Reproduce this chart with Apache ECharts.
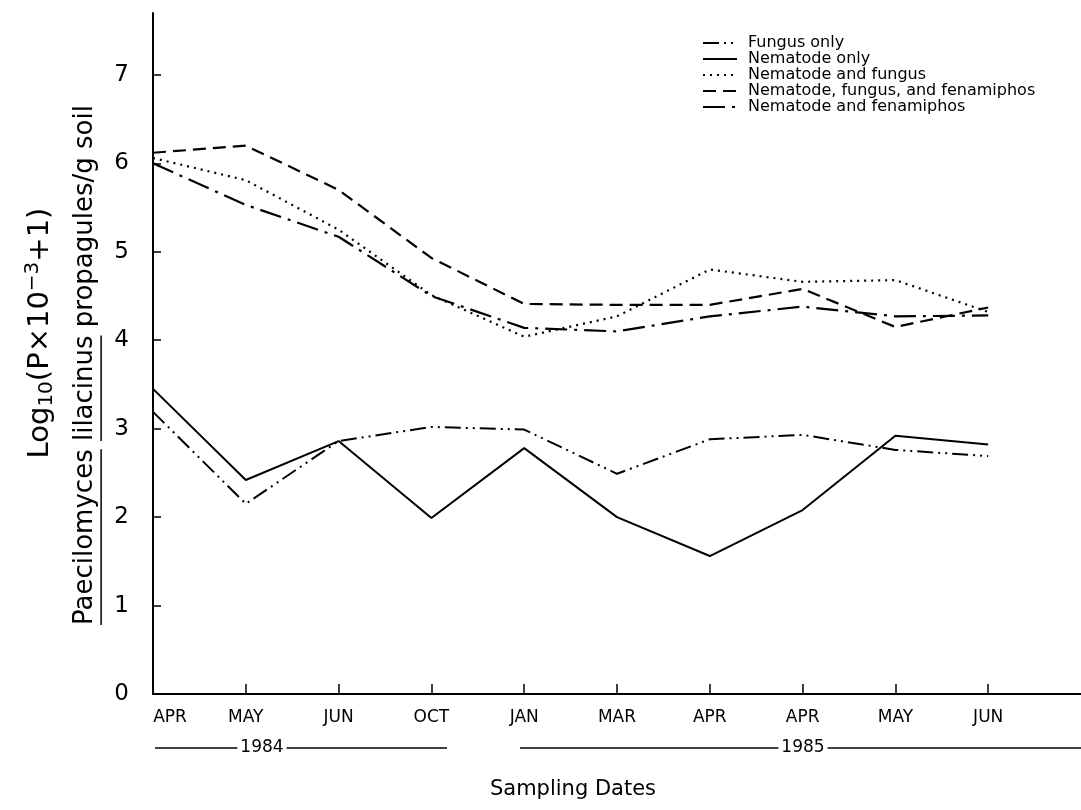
<!DOCTYPE html>
<html><head><meta charset="utf-8">
<script src="https://cdn.jsdelivr.net/npm/echarts@6/dist/echarts.min.js"></script>
<style>html,body{margin:0;padding:0;background:#fff}#c{width:1081px;height:810px}</style>
</head><body><div id="c"></div>
<script>
const categories = ['APR','MAY','JUN','OCT','JAN','MAR','APR','APR','MAY','JUN'];
const yearLabels = ['1984','1985'];
const yTicks = [0,1,2,3,4,5,6,7];
const seriesNames = ['Fungus only','Nematode only','Nematode and fungus','Nematode, fungus, and fenamiphos','Nematode and fenamiphos'];
const fungusOnly     = [3.19,2.15,2.86,3.02,2.99,2.49,2.88,2.93,2.76,2.69];
const nematodeOnly   = [3.45,2.42,2.86,1.99,2.78,2.00,1.56,2.08,2.92,2.82];
const nematodeFungus = [6.06,5.81,5.25,4.51,4.04,4.27,4.80,4.66,4.68,4.32];
const nemFungFen     = [6.12,6.20,5.70,4.93,4.41,4.40,4.40,4.58,4.15,4.37];
const nemFen         = [6.00,5.53,5.17,4.50,4.14,4.10,4.27,4.38,4.27,4.28];

const FONT = '"DejaVu Sans", sans-serif';
const chart = echarts.init(document.getElementById('c'), null, {renderer:'canvas'});

function mk(name, data, dash, width){
  return {name, type:'line', data:data.map((v,i)=>[i,v]), symbol:'none', silent:true,
    itemStyle:{color:'#000'},
    lineStyle:{color:'#000', width:width, type:dash}};
}

const ctx = document.createElement('canvas').getContext('2d');
const TFS = 26;
ctx.font = TFS + 'px ' + FONT;
const title2 = 'Paecilomyces lilacinus propagules/g soil';
const W = ctx.measureText(title2).width;
const w1 = ctx.measureText('Paecilomyces').width;
const w2s = ctx.measureText('Paecilomyces ').width;
const w2e = ctx.measureText('Paecilomyces lilacinus').width;
const ul = TFS*0.62;

const yearFS = 17;
ctx.font = yearFS + 'px ' + FONT;
const yw = ctx.measureText('1984').width/2 + 3;

chart.setOption({
  animation:false,
  backgroundColor:'#fff',
  grid:{left:153, right:0, top:13, bottom:116},
  legend:{
    orient:'vertical', left:697, top:30, itemWidth:34, itemHeight:12, itemGap:0,
    itemStyle:{opacity:0},
    textStyle:{fontFamily:FONT, fontSize:16, lineHeight:16, color:'#000', padding:[0,0,0,6]},
    data:seriesNames
  },
  xAxis:{
    type:'value', min:0, max:10,
    axisLine:{lineStyle:{color:'#000', width:2}},
    axisTick:{inside:true, length:10, customValues:[1,2,3,4,5,6,7,8,9], lineStyle:{color:'#000', width:1.5}},
    axisLabel:{customValues:[0,1,2,3,4,5,6,7,8,9], margin:15, fontFamily:FONT, fontSize:17, color:'#000',
      formatter:function(v){ return v===0 ? '{f|'+categories[0]+'}' : categories[v]; },
      rich:{f:{fontFamily:FONT, fontSize:17, color:'#000', padding:[0,0,0,34]}}},
    splitLine:{show:false}
  },
  yAxis:{
    type:'value', min:0, max:7.7,
    axisLine:{show:true, lineStyle:{color:'#000', width:2}},
    axisTick:{show:true, inside:true, length:8, customValues:yTicks, lineStyle:{color:'#000', width:1.5}},
    axisLabel:{customValues:yTicks, margin:24, fontFamily:FONT, fontSize:23, color:'#000'},
    splitLine:{show:false}
  },
  series:[
    mk(seriesNames[0], fungusOnly, [16,5,2,5,2,5], 2),
    mk(seriesNames[1], nematodeOnly, 'solid', 2),
    mk(seriesNames[2], nematodeFungus, [2,5], 2.2),
    mk(seriesNames[3], nemFungFen, [13,7], 2.2),
    mk(seriesNames[4], nemFen, [22,7,3,7], 2.2)
  ],
  graphic:[
    {type:'text', x:40, y:333, rotation:Math.PI/2,
      style:{text:'{m|Log}{s|10}{m|(P\u00d710}{p|\u22123}{m|+1)}', align:'center', verticalAlign:'middle',
        rich:{
          m:{font:'29px '+FONT, fill:'#000', lineHeight:38, verticalAlign:'middle'},
          s:{font:'20px '+FONT, fill:'#000', lineHeight:38, verticalAlign:'bottom', padding:[0,0,2,0]},
          p:{font:'20px '+FONT, fill:'#000', lineHeight:38, verticalAlign:'top', padding:[2,0,0,0]}
        }}},
    {type:'group', x:85, y:365, rotation:Math.PI/2, children:[
      {type:'text', style:{text:title2, font:TFS+'px '+FONT, fill:'#000', align:'center', verticalAlign:'middle'}},
      {type:'line', shape:{x1:-W/2, y1:ul, x2:-W/2+w1, y2:ul}, style:{stroke:'#000', lineWidth:1.5}},
      {type:'line', shape:{x1:-W/2+w2s, y1:ul, x2:-W/2+w2e, y2:ul}, style:{stroke:'#000', lineWidth:1.5}}
    ]},
    {type:'text', x:573, y:790, style:{text:'Sampling Dates', font:'21px '+FONT, fill:'#000', align:'center', verticalAlign:'middle'}},
    {type:'text', x:262, y:748, style:{text:yearLabels[0], font:yearFS+'px '+FONT, fill:'#000', align:'center', verticalAlign:'middle'}},
    {type:'line', shape:{x1:155, y1:748, x2:262-yw, y2:748}, style:{stroke:'#000', lineWidth:1.5}},
    {type:'line', shape:{x1:262+yw, y1:748, x2:447, y2:748}, style:{stroke:'#000', lineWidth:1.5}},
    {type:'text', x:803, y:748, style:{text:yearLabels[1], font:yearFS+'px '+FONT, fill:'#000', align:'center', verticalAlign:'middle'}},
    {type:'line', shape:{x1:520, y1:748, x2:803-yw, y2:748}, style:{stroke:'#000', lineWidth:1.5}},
    {type:'line', shape:{x1:803+yw, y1:748, x2:1081, y2:748}, style:{stroke:'#000', lineWidth:1.5}}
  ]
});
</script></body></html>
